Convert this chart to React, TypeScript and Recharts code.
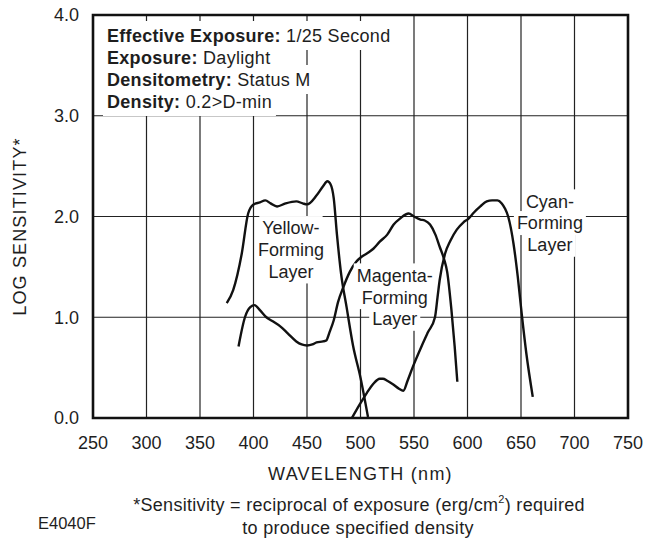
import React from 'react';
import { LineChart, Line, XAxis, YAxis, CartesianGrid, ReferenceArea, ReferenceDot } from 'recharts';

// ---- data ----
const xTicks = [250, 300, 350, 400, 450, 500, 550, 600, 650, 700, 750];
const yTicks = [0, 1, 2, 3, 4];

const yellowNm = [375, 381, 389, 395, 400, 406, 411, 416, 422, 430, 440, 446, 450, 459, 465, 469, 472, 475, 478, 482, 487, 493, 500, 507];
const yellowLog = [1.14, 1.27, 1.63, 2.03, 2.12, 2.14, 2.16, 2.13, 2.1, 2.13, 2.15, 2.13, 2.12, 2.21, 2.3, 2.35, 2.32, 2.18, 1.82, 1.42, 1.1, 0.72, 0.4, 0.01];

const magentaNm = [386, 392, 397, 401, 406, 412, 418, 425, 432, 440, 445, 450, 455, 459, 465, 468, 471, 475, 479, 484, 490, 496, 501, 507, 512, 518, 525, 531, 537, 545, 550, 556, 560, 565, 570, 574, 578, 581, 585, 588, 590.5];
const magentaLog = [0.71, 1.0, 1.1, 1.12, 1.07, 1.0, 0.96, 0.91, 0.84, 0.76, 0.73, 0.72, 0.73, 0.75, 0.76, 0.77, 0.85, 0.97, 1.15, 1.3, 1.45, 1.55, 1.6, 1.64, 1.68, 1.75, 1.82, 1.92, 1.98, 2.03, 2.0, 1.97, 1.96, 1.92, 1.82, 1.7, 1.58, 1.45, 1.07, 0.71, 0.36];

const cyanNm = [492, 499, 506, 512, 518, 521, 525, 531, 536, 540, 544, 549, 557, 563, 569.6, 572, 574, 579, 584, 590, 596, 601, 606, 612, 618, 623, 628, 632, 635, 638, 643, 647, 650.6, 655, 661];
const cyanLog = [0.0, 0.13, 0.25, 0.34, 0.39, 0.39, 0.37, 0.33, 0.29, 0.27, 0.37, 0.51, 0.71, 0.85, 1.0, 1.2, 1.37, 1.63, 1.76, 1.87, 1.94, 1.98, 2.04, 2.1, 2.15, 2.16, 2.16, 2.13, 2.08, 2.0, 1.73, 1.4, 1.04, 0.64, 0.21];

const yellowLabel = ['Yellow-', 'Forming', 'Layer'];
const magentaLabel = ['Magenta-', 'Forming', 'Layer'];
const cyanLabel = ['Cyan-', 'Forming', 'Layer'];
const infoLines: [string, string][] = [
  ['Effective Exposure:', ' 1/25 Second'],
  ['Exposure:', ' Daylight'],
  ['Densitometry:', ' Status M'],
  ['Density:', ' 0.2>D-min'],
];

const toData = (nm: number[], v: number[]) => nm.map((x, i) => ({ nm: x, v: v[i] }));
const yellowData = toData(yellowNm, yellowLog);
const magentaData = toData(magentaNm, magentaLog);
const cyanData = toData(cyanNm, cyanLog);

// ---- styling ----
const FONT = "'Liberation Sans', Arial, Helvetica, sans-serif";
const FS = 18;
const INK = '#1e1e1e';
const LS = 0.3;

let ctx: CanvasRenderingContext2D | null = null;
function measure(text: string, bold = false, size = FS, ls = 0): number {
  try {
    if (!ctx) ctx = document.createElement('canvas').getContext('2d');
    if (ctx) {
      ctx.font = `${bold ? 'bold ' : ''}${size}px 'Liberation Sans'`;
      return ctx.measureText(text).width + ls * text.length;
    }
  } catch (e) {}
  return text.length * (size * 0.55 + ls);
}

const LayerLabel = ({ cx, cy, lines }: any) => {
  if (cx == null || cy == null) return null;
  const lh = 21.7;
  return (
    <g>
      {lines.map((t: string, i: number) => {
        const yc = cy + (i - 1) * lh;
        const w = measure(t);
        return <rect key={'r' + i} x={cx - w / 2 - 3} y={yc - 12} width={w + 6} height={24} fill="#fff" />;
      })}
      {lines.map((t: string, i: number) => {
        const yc = cy + (i - 1) * lh;
        return (
          <text key={'t' + i} x={cx} y={yc + 6.4} textAnchor="middle" fontFamily={FONT} fontSize={FS} fill={INK}>
            {t}
          </text>
        );
      })}
    </g>
  );
};

const InfoBox = ({ cx, cy }: any) => {
  if (cx == null || cy == null) return null;
  const x0 = cx + 14;
  const lh = 22;
  return (
    <g>
      {infoLines.map(([b, n], i) => {
        const base = cy + 27 + i * lh;
        const w = measure(b, true, FS, LS) + measure(n, false, FS, LS);
        return <rect key={'r' + i} x={x0 - 4} y={base - 21} width={w + 8} height={29} fill="#fff" />;
      })}
      {infoLines.map(([b, n], i) => {
        const base = cy + 27 + i * lh;
        return (
          <text key={'t' + i} x={x0} y={base} fontFamily={FONT} fontSize={FS} fill={INK} letterSpacing={LS}>
            <tspan fontWeight="bold">{b}</tspan>
            <tspan>{n}</tspan>
          </text>
        );
      })}
    </g>
  );
};

const XLabel = (props: any) => {
  const vb = props.viewBox || {};
  return (
    <text x={vb.x + vb.width / 2} y={vb.y + 62} textAnchor="middle" fontFamily={FONT} fontSize={FS} fill={INK} letterSpacing={1.25}>
      WAVELENGTH (nm)
    </text>
  );
};

const YLabel = (props: any) => {
  const vb = props.viewBox || {};
  const x = vb.x + 13;
  const y = vb.y + vb.height / 2 + 10;
  return (
    <text x={x} y={y} transform={`rotate(-90 ${x} ${y})`} textAnchor="middle" fontFamily={FONT} fontSize={FS} fill={INK} letterSpacing={1.15}>
      LOG SENSITIVITY*
    </text>
  );
};

export default function App() {
  const tickStyle = { fontFamily: FONT, fontSize: FS, fill: INK };
  return (
    <div style={{ position: 'absolute', left: 0, top: 0, width: 647, height: 542, background: '#fff' }}>
      <LineChart width={647} height={542} margin={{ top: 15, right: 19, bottom: 54, left: 13 }}>
        <CartesianGrid stroke="#222" strokeWidth={1.2} />
        <XAxis
          type="number"
          dataKey="nm"
          domain={[250, 750]}
          ticks={xTicks}
          interval={0}
          allowDataOverflow
          tickLine={false}
          axisLine={false}
          tickSize={6}
          tickMargin={12}
          height={70}
          tick={tickStyle}
          label={<XLabel />}
        />
        <YAxis
          type="number"
          domain={[0, 4]}
          ticks={yTicks}
          interval={0}
          allowDataOverflow
          tickLine={false}
          axisLine={false}
          tickSize={6}
          tickMargin={8}
          width={80}
          tick={tickStyle}
          tickFormatter={(v: number) => v.toFixed(1)}
          label={<YLabel />}
        />
        <ReferenceArea x1={250} x2={750} y1={0} y2={4} fill="none" fillOpacity={0} stroke="#111" strokeWidth={2.6} ifOverflow="visible" />
        <ReferenceDot x={250} y={4} r={0} ifOverflow="visible" shape={(p: any) => <InfoBox cx={p.cx} cy={p.cy} />} />
        <ReferenceDot x={435} y={1.67} r={0} shape={(p: any) => <LayerLabel cx={p.cx} cy={p.cy} lines={yellowLabel} />} />
        <ReferenceDot x={532} y={1.2} r={0} shape={(p: any) => <LayerLabel cx={p.cx} cy={p.cy} lines={magentaLabel} />} />
        <ReferenceDot x={677} y={1.935} r={0} shape={(p: any) => <LayerLabel cx={p.cx} cy={p.cy} lines={cyanLabel} />} />
        <Line data={yellowData} dataKey="v" type="monotone" stroke="#111" strokeWidth={2.4} dot={false} isAnimationActive={false} />
        <Line data={magentaData} dataKey="v" type="monotone" stroke="#111" strokeWidth={2.4} dot={false} isAnimationActive={false} />
        <Line data={cyanData} dataKey="v" type="monotone" stroke="#111" strokeWidth={2.4} dot={false} isAnimationActive={false} />
      </LineChart>
      <svg width={647} height={542} style={{ position: 'absolute', left: 0, top: 0, pointerEvents: 'none' }}>
        <text x={359} y={511} textAnchor="middle" fontFamily={FONT} fontSize={FS} fill={INK} letterSpacing={LS}>
          *Sensitivity = reciprocal of exposure (erg/cm
          <tspan fontSize={11} dy={-8}>2</tspan>
          <tspan dy={8}>) required</tspan>
        </text>
        <text x={358} y={534} textAnchor="middle" fontFamily={FONT} fontSize={FS} fill={INK} letterSpacing={LS}>
          to produce specified density
        </text>
        <text x={38} y={529} fontFamily={FONT} fontSize={16.5} fill={INK}>
          E4040F
        </text>
      </svg>
    </div>
  );
}
